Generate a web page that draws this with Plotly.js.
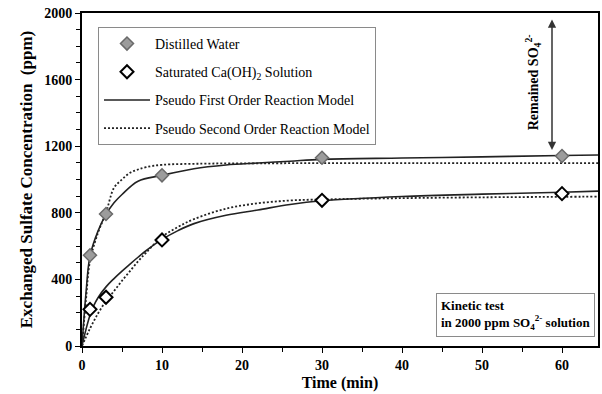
<!DOCTYPE html>
<html>
<head>
<meta charset="utf-8">
<script src="https://cdn.plot.ly/plotly-3.0.1.min.js"></script>
<style>html,body{margin:0;padding:0;background:#fff;}#chart{width:602px;height:394px;}</style>
</head>
<body>
<div id="chart"></div>
<script>
// Measured points
const timePts = [1, 3, 10, 30, 60];
const distilledWater = [545, 793, 1025, 1131, 1141];
const caOH2 = [220, 293, 637, 875, 915];

// Model curves
const dwFirstT = [0, 0.5, 1, 2, 3, 4, 5, 7, 10, 14, 18, 22, 26, 30, 40, 50, 60, 64.5];
const dwFirstV = [0, 320, 540, 690, 790, 860, 910, 990, 1025, 1065, 1087, 1099, 1110, 1121, 1129, 1136, 1144, 1147];
const dwSecondT = [0, 0.5, 1, 2, 3, 4, 5, 6, 7, 8, 10, 15, 20, 30, 45, 64.5];
const dwSecondV = [0, 280, 510, 680, 800, 950, 1000, 1040, 1060, 1074, 1088, 1095, 1097, 1098, 1098, 1098];
const caFirstT = [0, 0.5, 1, 1.5, 2, 3, 4, 5, 6, 7, 8, 10, 12, 14, 18, 22, 26, 30, 40, 50, 60, 64.5];
const caFirstV = [0, 100, 185, 245, 290, 355, 405, 450, 492, 533, 572, 640, 693, 735, 785, 817, 850, 872, 898, 912, 923, 930];
const caSecondT = [0, 1, 2, 3, 4, 5, 6, 7, 8, 10, 12, 14, 18, 22, 26, 30, 40, 50, 60, 64.5];
const caSecondV = [0, 105, 195, 270, 330, 392, 450, 508, 560, 655, 715, 762, 825, 857, 874, 880, 888, 893, 896, 897];

const xTicks = [0, 10, 20, 30, 40, 50, 60];
const yTicks = [0, 400, 800, 1200, 1600, 2000];

const serif = 'Liberation Serif, Times New Roman, serif';
const lineCol = '#222';
const dotDash = '2px,2px';

const traces = [
  {x: dwFirstT, y: dwFirstV, mode: 'lines', line: {color: lineCol, width: 1.6, shape: 'spline', smoothing: 1},
   name: 'Pseudo First Order Reaction Model', legendgroup: 'pfo', legendrank: 3, showlegend: true},
  {x: caFirstT, y: caFirstV, mode: 'lines', line: {color: lineCol, width: 1.6, shape: 'spline', smoothing: 1},
   name: 'Pseudo First Order Reaction Model', legendgroup: 'pfo', legendrank: 3, showlegend: false},
  {x: dwSecondT, y: dwSecondV, mode: 'lines', line: {color: lineCol, width: 1.8, dash: dotDash, shape: 'spline', smoothing: 1},
   name: 'Pseudo Second Order Reaction Model', legendgroup: 'pso', legendrank: 4, showlegend: true},
  {x: caSecondT, y: caSecondV, mode: 'lines', line: {color: lineCol, width: 1.8, dash: dotDash, shape: 'spline', smoothing: 1},
   name: 'Pseudo Second Order Reaction Model', legendgroup: 'pso', legendrank: 4, showlegend: false},
  {x: timePts, y: distilledWater, mode: 'markers', name: 'Distilled Water', legendgroup: 'dw', legendrank: 1,
   marker: {symbol: 'diamond', size: 10, color: '#9c9c9c', line: {color: '#6a6a6a', width: 1.5}}},
  {x: timePts, y: caOH2, mode: 'markers', name: 'Saturated Ca(OH)<sub>2</sub> Solution', legendgroup: 'ca', legendrank: 2,
   marker: {symbol: 'diamond', size: 10, color: '#ffffff', line: {color: '#000', width: 2}}}
];

const layout = {
  width: 602, height: 394,
  margin: {l: 82, r: 4, t: 13, b: 48},
  paper_bgcolor: '#fff', plot_bgcolor: '#fff',
  font: {family: serif, color: '#000'},
  showlegend: true,
  legend: {x: 0.031, y: 0.958, xanchor: 'left', yanchor: 'top', bgcolor: '#fff',
           bordercolor: '#8a8a8a', borderwidth: 1, font: {family: serif, size: 14, color: '#000'},
           tracegroupgap: 7, traceorder: 'grouped', itemwidth: 46},
  xaxis: {range: [0, 64.5], tickvals: xTicks, ticks: 'outside', ticklen: 5, tickwidth: 1, tickcolor: '#000',
          showline: true, linecolor: '#000', linewidth: 2, mirror: true, showgrid: false, zeroline: false,
          tickfont: {family: serif, size: 14, weight: 'bold'},
          minor: {dtick: 5, tick0: 0, ticks: 'outside', ticklen: 4, tickcolor: '#000', showgrid: false},
          title: {text: 'Time (min)', font: {family: serif, size: 16, weight: 'bold'}, standoff: 5}},
  yaxis: {range: [0, 2000], tickvals: yTicks, ticks: 'outside', ticklen: 5, tickwidth: 1, tickcolor: '#000',
          showline: true, linecolor: '#000', linewidth: 2, mirror: true, showgrid: false, zeroline: false,
          tickfont: {family: serif, size: 14, weight: 'bold'},
          minor: {dtick: 100, tick0: 0, ticks: 'outside', ticklen: 4, tickcolor: '#000', showgrid: false},
          title: {text: 'Exchanged Sulfate Concentration  (ppm)', font: {family: serif, size: 17, weight: 'bold'}, standoff: 7}},
  annotations: [
    {x: 58.75, y: 1177, ax: 58.75, ay: 1970, xref: 'x', yref: 'y', axref: 'x', ayref: 'y',
     text: '', showarrow: true, arrowhead: 2, startarrowhead: 2, arrowside: 'end+start',
     arrowsize: 1.1, arrowwidth: 1.5, arrowcolor: '#333'},
    {x: 56.4, y: 1585, xref: 'x', yref: 'y', text: 'Remained SO<sub>4</sub><sup>2-</sup>', textangle: -90,
     showarrow: false, font: {family: serif, size: 14, weight: 'bold', color: '#000'}},
    {x: 0.994, y: 0.027, xref: 'paper', yref: 'paper', xanchor: 'right', yanchor: 'bottom', align: 'left',
     text: 'Kinetic test<br>in 2000 ppm SO<sub>4</sub><sup>2-</sup> solution', showarrow: false,
     bgcolor: '#fff', bordercolor: '#8a8a8a', borderwidth: 1, borderpad: 4,
     font: {family: serif, size: 13, weight: 'bold', color: '#000'}}
  ]
};

Plotly.newPlot('chart', traces, layout, {displayModeBar: false, staticPlot: true});
</script>
</body>
</html>
